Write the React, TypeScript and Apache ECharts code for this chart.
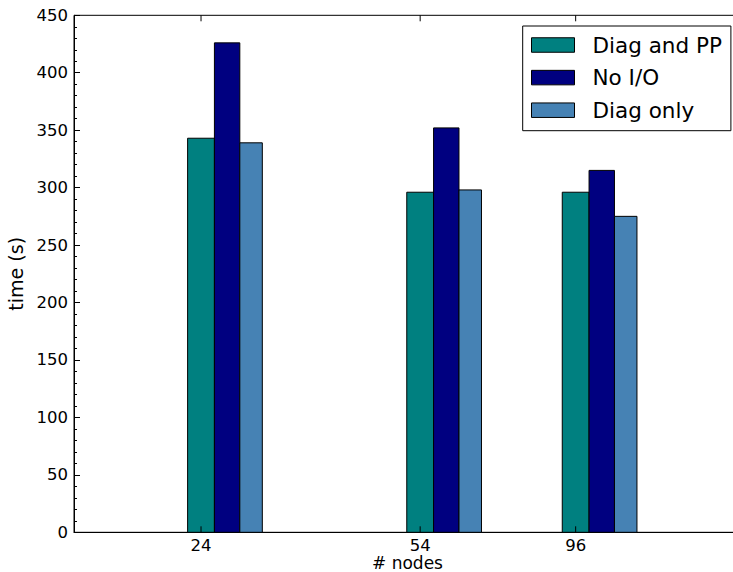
import React, { useEffect, useRef } from "react";
import * as echarts from "echarts";

// ---- data ----
const NODES: number[] = [24, 54, 96];
const SERIES_NAMES: string[] = ["Diag and PP", "No I/O", "Diag only"];
const DIAG_AND_PP: number[] = [343, 296, 296];
const NO_IO: number[] = [426, 352, 315];
const DIAG_ONLY: number[] = [339, 298, 275];
const Y_TICKS: number[] = [0, 50, 100, 150, 200, 250, 300, 350, 400, 450];

// ---- styles ----
const COLORS = ["#008080", "#000080", "#4682B4"];
// pixel offsets of each bar (left, right) relative to the tick position
const BAR_OFFSETS: [number, number][] = [
  [-13.4, 13.4],
  [13.4, 38.8],
  [38.8, 61.3],
];
const FONT = "DejaVu Sans";

export default function App() {
  const ref = useRef<HTMLDivElement>(null);

  useEffect(() => {
    if (!ref.current) return;
    const chart = echarts.init(ref.current, undefined, { renderer: "svg" });
    const values = [DIAG_AND_PP, NO_IO, DIAG_ONLY];
    const yMin = Y_TICKS[0];
    const yMax = Y_TICKS[Y_TICKS.length - 1];

    const barSeries = SERIES_NAMES.map((name, k) => ({
      type: "custom",
      name,
      coordinateSystem: "cartesian2d",
      clip: false,
      z: 2,
      itemStyle: { color: COLORS[k], borderColor: "#000", borderWidth: 1 },
      encode: { x: 0, y: 1 },
      data: NODES.map((n, i) => [n, values[k][i]]),
      renderItem: (params: any, api: any) => {
        const x = api.value(0);
        const v = api.value(1);
        const base = api.coord([x, yMin]);
        const top = api.coord([x, v]);
        const off = BAR_OFFSETS[k];
        return {
          type: "rect",
          shape: {
            x: base[0] + off[0],
            y: top[1],
            width: off[1] - off[0],
            height: base[1] - top[1],
          },
          style: { fill: COLORS[k], stroke: "#000", lineWidth: 1 },
        };
      },
    }));

    const tickSeries = {
      type: "custom",
      name: "xticks",
      coordinateSystem: "cartesian2d",
      clip: false,
      silent: true,
      z: 5,
      encode: { x: 0, y: 1 },
      data: NODES.map((n) => [n, yMin]),
      renderItem: (params: any, api: any) => {
        const x = api.value(0);
        const b = api.coord([x, yMin]);
        const t = api.coord([x, yMax]);
        return {
          type: "group",
          children: [
            {
              type: "line",
              shape: { x1: b[0], y1: b[1], x2: b[0], y2: b[1] - 6 },
              style: { stroke: "#000", lineWidth: 1 },
            },
            {
              type: "line",
              shape: { x1: t[0], y1: t[1], x2: t[0], y2: t[1] + 6 },
              style: { stroke: "#000", lineWidth: 1 },
            },
            {
              type: "text",
              x: b[0],
              y: b[1] + 5,
              style: {
                text: String(x),
                fill: "#000",
                fontSize: 16.5,
                lineHeight: 16.5,
                fontFamily: FONT,
                align: "center",
                verticalAlign: "top",
              },
            },
          ],
        };
      },
    };

    chart.setOption({
      animation: false,
      backgroundColor: "#fff",
      textStyle: { fontFamily: FONT },
      grid: {
        left: 74,
        top: 15.3,
        width: 667,
        height: 517,
        outerBoundsMode: "none",
        containLabel: false,
        show: true,
        borderColor: "#000",
        borderWidth: 1,
        backgroundColor: "transparent",
      },
      legend: {
        data: SERIES_NAMES,
        left: 522.7,
        top: 26,
        orient: "vertical",
        icon: "rect",
        itemWidth: 43,
        itemHeight: 14.5,
        itemGap: 10.6,
        padding: [8, 9, 9.5, 8.3],
        borderColor: "#000",
        borderWidth: 1,
        backgroundColor: "#fff",
        borderRadius: 0,
        itemStyle: { borderColor: "#000", borderWidth: 1 },
        textStyle: {
          fontSize: 21.5,
          lineHeight: 20,
          color: "#000",
          fontFamily: FONT,
          padding: [0, 0, 0, 13],
        },
      },
      xAxis: {
        type: "log",
        min: 15,
        max: 177,
        name: "# nodes",
        nameLocation: "middle",
        nameGap: 22.5,
        nameTextStyle: { fontSize: 17, lineHeight: 17, color: "#000", fontFamily: FONT },
        axisLine: { show: true, lineStyle: { color: "#000", width: 1 } },
        axisTick: { show: false },
        minorTick: { show: false },
        axisLabel: { show: false },
        splitLine: { show: false },
      },
      yAxis: {
        type: "value",
        min: yMin,
        max: yMax,
        interval: 50,
        name: "time (s)",
        nameLocation: "middle",
        nameGap: 48,
        nameTextStyle: { fontSize: 19, color: "#000", fontFamily: FONT },
        axisLine: { show: true, lineStyle: { color: "#000", width: 1 } },
        axisTick: { show: true, inside: true, length: 6, lineStyle: { color: "#000" } },
        minorTick: { show: true, splitNumber: 5, length: 3, lineStyle: { color: "#000" } },
        axisLabel: {
          color: "#000",
          fontSize: 16.5,
          fontFamily: FONT,
          margin: 6,
          formatter: (v: number) => (Y_TICKS.includes(v) ? String(v) : ""),
        },
        splitLine: { show: false },
        minorSplitLine: { show: false },
      },
      series: [...barSeries, tickSeries],
    });

    return () => {
      chart.dispose();
    };
  }, []);

  return (
    <div
      ref={ref}
      style={{ position: "fixed", left: 0, top: 0, width: 733, height: 572 }}
    />
  );
}
